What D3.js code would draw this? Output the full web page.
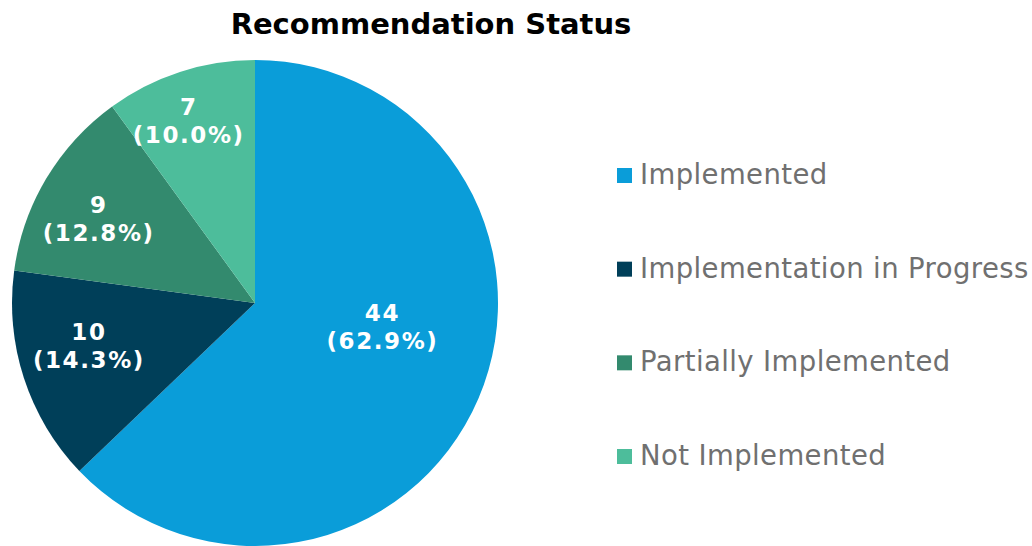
<!DOCTYPE html>
<html>
<head>
<meta charset="utf-8">
<script src="https://cdn.jsdelivr.net/npm/d3@7"></script>
<style>
  body { margin: 0; background: #fff; }
  svg { display: block; font-family: "DejaVu Sans", Verdana, sans-serif; }
</style>
</head>
<body>
<svg id="drawing_region"></svg>
<script>
// data
const categories = ["Implemented", "Implementation in Progress", "Partially Implemented", "Not Implemented"];
const counts = [44, 10, 9, 7];
const pctLabels = ["62.9%", "14.3%", "12.8%", "10.0%"];
const colors = ["#0a9dd9", "#003f59", "#338a6e", "#4dbd9b"];

// layout
const width = 1032, height = 546;
const cx = 255, cy = 303, radius = 243;
const labelRadius = [0.53, 0.71, 0.73, 0.79];
const labelShift = [[8, -25], [-3, -8], [-5, 9], [-8, 3]];

const svg = d3.select('#drawing_region')
    .attr('width', width)
    .attr('height', height);

svg.append('text')
    .attr('x', 431)
    .attr('y', 34)
    .attr('text-anchor', 'middle')
    .style('font-weight', 'bold')
    .style('font-size', '29px')
    .attr('fill', '#000')
    .text('Recommendation Status');

const data = categories.map((c, i) => ({ name: c, value: counts[i], pct: pctLabels[i], color: colors[i], i: i }));

const pie = d3.pie().value(d => d.value).sort(null);
const arc = d3.arc().innerRadius(0).outerRadius(radius);

const g = svg.append('g')
    .attr('transform', `translate(${cx}, ${cy})`);

const arcs = pie(data);

g.selectAll('path')
    .data(arcs)
    .join('path')
    .attr('d', arc)
    .attr('fill', d => d.data.color);

// data labels
const labels = g.selectAll('text.lbl')
    .data(arcs)
    .join('text')
    .attr('class', 'lbl')
    .attr('text-anchor', 'middle')
    .attr('fill', '#fff')
    .style('font-weight', 'bold')
    .style('font-size', '23px')
    .style('letter-spacing', '1.6px')
    .attr('transform', d => {
        const r = radius * labelRadius[d.data.i];
        const a = (d.startAngle + d.endAngle) / 2;
        const x = Math.sin(a) * r + labelShift[d.data.i][0] + 1;
        const y = -Math.cos(a) * r + labelShift[d.data.i][1];
        return `translate(${x}, ${y})`;
    });

labels.append('tspan')
    .attr('x', 0)
    .attr('y', -8)
    .text(d => d.data.value);
labels.append('tspan')
    .attr('x', 0)
    .attr('y', 20)
    .text(d => `(${d.data.pct})`);

// legend
const legend = svg.append('g')
    .attr('transform', 'translate(617, 0)');

const legendY = d3.scalePoint()
    .domain(categories)
    .range([175, 456]);

const item = legend.selectAll('g')
    .data(data)
    .join('g')
    .attr('transform', d => `translate(0, ${legendY(d.name)})`);

item.append('rect')
    .attr('x', 0)
    .attr('y', -7)
    .attr('width', 15)
    .attr('height', 15)
    .attr('fill', d => d.color);

item.append('text')
    .attr('x', 23)
    .attr('y', 9)
    .attr('fill', '#707070')
    .style('font-size', '27.5px')
    .style('letter-spacing', '0.4px')
    .text(d => d.name);
</script>
</body>
</html>
